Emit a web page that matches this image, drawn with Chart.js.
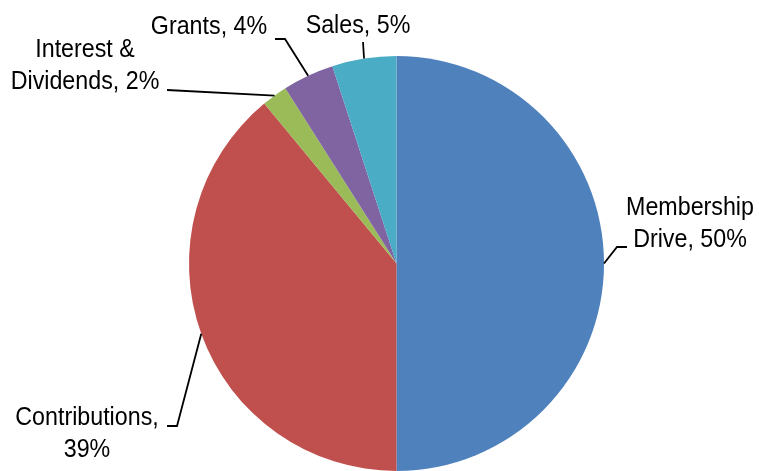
<!DOCTYPE html>
<html>
<head>
<meta charset="utf-8">
<script src="https://cdn.jsdelivr.net/npm/chart.js@4"></script>
<style>
  html, body { margin: 0; padding: 0; background: #fff; }
  #wrap { width: 759px; height: 471px; }
</style>
</head>
<body>
<div id="wrap"><canvas id="incomeChart"></canvas></div>
<script>
// data
const categories = ['Membership Drive', 'Contributions', 'Interest & Dividends', 'Grants', 'Sales'];
const shares = [50, 39, 2, 4, 5];
const sliceColors = ['#4F81BD', '#C0504D', '#9BBB59', '#8064A2', '#4BACC6'];

// label text lines, and where each label + leader line sits
const labelLines = [
  ['Membership', 'Drive, 50%'],
  ['Contributions,', '39%'],
  ['Interest &', 'Dividends, 2%'],
  ['Grants, 4%'],
  ['Sales, 5%']
];
const labelLayout = [
  { x: 690, y: 215, path: [[617, 247], [627, 247]] },
  { x: 87, y: 425, path: [[177, 426], [167, 426]] },
  { x: 85, y: 57, path: [[167, 90]] },
  { x: 209, y: 34, path: [[285, 39], [275, 39]] },
  { x: 358, y: 33, path: [[363, 42]] }
];

const leaderLabels = {
  id: 'leaderLabels',
  afterDatasetsDraw(chart) {
    const ctx = chart.ctx;
    const arcs = chart.getDatasetMeta(0).data;
    ctx.save();
    ctx.strokeStyle = '#000';
    ctx.lineWidth = 1.8;
    arcs.forEach((arc, i) => {
      const p = arc.getProps(['x', 'y', 'startAngle', 'endAngle', 'outerRadius'], true);
      const mid = (p.startAngle + p.endAngle) / 2;
      const ax = p.x + Math.cos(mid) * p.outerRadius;
      const ay = p.y + Math.sin(mid) * p.outerRadius;
      ctx.beginPath();
      ctx.moveTo(ax, ay);
      labelLayout[i].path.forEach(pt => ctx.lineTo(pt[0], pt[1]));
      ctx.stroke();
    });
    ctx.fillStyle = '#000';
    ctx.font = '25px "Liberation Sans", Arial, sans-serif';
    ctx.textAlign = 'center';
    ctx.textBaseline = 'alphabetic';
    // the original labels use a slightly condensed face
    const squeeze = 0.93;
    labelLines.forEach((lines, i) => {
      const l = labelLayout[i];
      lines.forEach((t, k) => {
        ctx.save();
        ctx.translate(l.x, l.y + k * 32);
        ctx.scale(squeeze, 1);
        ctx.fillText(t, 0, 0);
        ctx.restore();
      });
    });
    ctx.restore();
  }
};

const incomeChart = document.getElementById('incomeChart').getContext('2d');
new Chart(incomeChart, {
  type: 'pie',
  data: {
    labels: categories,
    datasets: [{
      data: shares,
      backgroundColor: sliceColors,
      borderWidth: 0
    }]
  },
  options: {
    responsive: true,
    maintainAspectRatio: false,
    animation: false,
    layout: { padding: { left: 189, right: 155, top: 56, bottom: 0 } },
    plugins: {
      legend: { display: false },
      tooltip: { enabled: false }
    }
  },
  plugins: [leaderLabels]
});
</script>
</body>
</html>
